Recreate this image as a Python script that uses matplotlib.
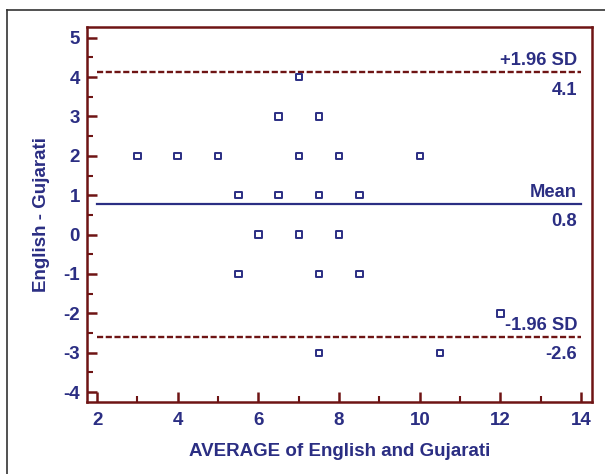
import matplotlib.pyplot as plt
from matplotlib.lines import Line2D

plt.rcParams['font.family'] = ['Liberation Sans', 'DejaVu Sans']
plt.rcParams['axes.unicode_minus'] = False

# Bland-Altman points (average, difference)
avg = [3, 4, 5, 5.5, 5.5, 6, 6.5, 6.5, 7, 7, 7, 7.5, 7.5, 7.5, 7.5,
       8, 8, 8.5, 8.5, 10, 10.5, 12]
diff = [2, 2, 2, 1, -1, 0, 3, 1, 4, 2, 0, 3, 1, -1, -3,
        2, 0, 1, -1, 2, -3, -2]

mean_diff = 0.78
upper_loa = 4.12
lower_loa = -2.6
line_labels = ["+1.96 SD", "Mean", "-1.96 SD"]
value_labels = ["4.1", "0.8", "-2.6"]

navy = "#2b2e83"
dark_red = "#6e1414"

fig = plt.figure(figsize=(6.05, 4.74), dpi=100)
# outer frame
fig.add_artist(Line2D([7 / 605, 7 / 605], [0, 1 - 10 / 474], color="#333333", lw=1.2))
fig.add_artist(Line2D([7 / 605, 1], [1 - 10 / 474, 1 - 10 / 474], color="#333333", lw=1.2))

ax = fig.add_axes([87 / 605, 72 / 474, 505 / 605, 375 / 474])

ax.scatter(avg, diff, marker="s", s=22, facecolors="none", edgecolors=navy,
           linewidths=1.4, zorder=3)

ax.plot([2, 14], [upper_loa, upper_loa], color=dark_red, lw=1.7, ls=(0, (2.6, 1.1)))
ax.plot([2, 14], [mean_diff, mean_diff], color=navy, lw=1.6)
ax.plot([2, 14], [lower_loa, lower_loa], color=dark_red, lw=1.7, ls=(0, (2.6, 1.1)))

for yv, lab, val in zip([upper_loa, mean_diff, lower_loa], line_labels, value_labels):
    ax.annotate(lab, (13.9, yv), xytext=(0, 5), textcoords="offset points",
                ha="right", va="baseline", color=navy, fontsize=13.2,
                fontweight="bold")
    ax.annotate(val, (13.9, yv), xytext=(0, -16), textcoords="offset points",
                ha="right", va="baseline", color=navy, fontsize=13.2,
                fontweight="bold")

ax.set_xlim(1.75, 14.27)
ax.set_ylim(-4.25, 5.27)
ax.set_xticks(range(2, 15, 2))
ax.set_xticks(range(3, 14, 2), minor=True)
ax.set_yticks(range(-4, 6))
ax.set_yticks([v + 0.5 for v in range(-4, 5)], minor=True)

for s in ax.spines.values():
    s.set_color(dark_red)
    s.set_linewidth(1.8)

ax.tick_params(which="major", direction="in", length=7, width=1.8, color=dark_red,
               labelcolor=navy, labelsize=13.5)
ax.tick_params(axis="y", which="major", pad=5)
ax.tick_params(axis="x", which="major", pad=7)
ax.tick_params(which="minor", direction="in", length=4, width=1.5, color=dark_red)
for lab in ax.get_xticklabels() + ax.get_yticklabels():
    lab.set_fontweight("bold")

ax.set_xlabel("AVERAGE of English and Gujarati", color=navy, fontsize=13.5,
              fontweight="bold", labelpad=10)
ax.set_ylabel("English - Gujarati", color=navy, fontsize=13.5, fontweight="bold",
              labelpad=10)

fig.savefig("out.png", dpi=100)
